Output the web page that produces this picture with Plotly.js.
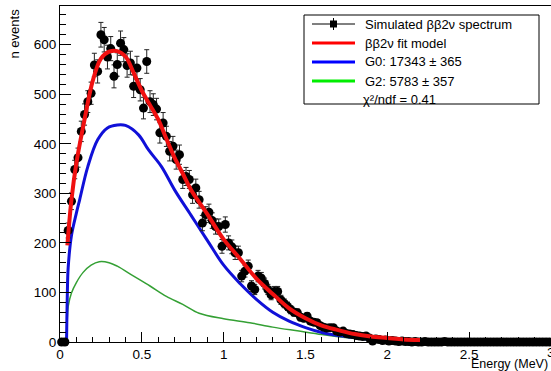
<!DOCTYPE html>
<html><head><meta charset="utf-8">
<script src="https://cdn.plot.ly/plotly-3.0.1.min.js"></script>
<style>html,body{margin:0;padding:0;background:#fff}#chart{width:551px;height:371px}</style>
</head><body><div id="chart"></div>
<script>
// Simulated spectrum: bin centres (MeV) and counts
var dataX = [0.01,0.03,0.05,0.07,0.09,0.11,0.13,0.15,0.17,0.19,0.21,0.23,0.25,0.27,0.29,0.31,0.33,0.35,0.37,0.39,
0.41,0.43,0.45,0.47,0.49,0.51,0.53,0.55,0.57,0.59,0.61,0.63,0.65,0.67,0.69,0.71,0.73,0.75,0.77,0.79,
0.81,0.83,0.85,0.87,0.89,0.91,0.93,0.95,0.97,0.99,1.01,1.03,1.05,1.07,1.09,1.11,1.13,1.15,1.17,1.19,
1.21,1.23,1.25,1.27,1.29,1.31,1.33,1.35,1.37,1.39,1.41,1.43,1.45,1.47,1.49,1.51,1.53,1.55,1.57,1.59,
1.61,1.63,1.65,1.67,1.69,1.71,1.73,1.75,1.77,1.79,1.81,1.83,1.85,1.87,1.89,1.91,1.93,1.95,1.97,1.99,
2.01,2.03,2.05,2.07,2.09,2.11,2.13,2.15,2.17,2.19,2.21,2.23,2.25,2.27,2.29,2.31,2.33,2.35,2.37,2.39,
2.41,2.43,2.45,2.47,2.49,2.51,2.53,2.55,2.57,2.59,2.61,2.63,2.65,2.67,2.69,2.71,2.73,2.75,2.77,2.79,
2.81,2.83,2.85,2.87,2.89,2.91,2.93,2.95,2.97,2.99];
var dataY = [0,0,225,284,348,372,425,459,485,502,559,546,620,610,575,592,536,560,603,590,
558,563,516,553,509,472,566,485,479,470,422,442,415,385,395,368,378,328,334,328,
297,311,287,240,257,262,245,233,233,193,237,200,192,180,180,133,143,153,113,106,
133,129,118,106,95,102,102,85,78,72,65,60,59,50,48,52,42,40,39,33,
30,28,29,29,22,20,22,17,16,15,13,12,11,12,8,2,6,5,3,4,
2,3,2,1,2,1,1,0,1,0,0,1,0,0,0,0,0,1,0,0,
0,0,0,0,0,0,0,0,0,0,0,0,0,0,0,0,0,0,0,0,
0,0,0,0,0,0,0,0,0,0];

// Fit model (sum)
var fitX = [0.045,0.07,0.10,0.15,0.20,0.25,0.30,0.35,0.40,0.45,0.50,0.55,0.60,0.65,0.70,0.75,0.80,0.90,1.00,1.10,1.20,1.30,1.40,1.50,1.60,1.70,1.80,1.90,2.00,2.10,2.20];
var fitY = [195,287,361,449,527,572,586,587,576,543,507,478,449,410,372,340,307,258,207,168,128,97,68,48,33,24,16,11,8,5,4];

// G0 component
var g0X = [0.04,0.045,0.05,0.07,0.10,0.12,0.17,0.23,0.29,0.35,0.40,0.48,0.54,0.62,0.70,0.80,0.90,1.00,1.10,1.20,1.30,1.40,1.50,1.60,1.70,1.80,1.90,2.00];
var g0Y = [0,100,150,215,260,287,354,408,432,438,437,418,388,354,307,256,205,155,118,86,60,42,29,19,13,9,5,3];

// G2 component
var g2X = [0.04,0.045,0.05,0.07,0.10,0.14,0.19,0.24,0.30,0.35,0.45,0.55,0.65,0.75,0.85,1.00,1.16,1.30,1.46,1.60,1.77,1.90,2.00];
var g2Y = [0,50,72,99,120,140,155,162,160,153,133,113,92,76,58,47,39,30,22,15,8,4,2];

var legendLabels = ['Simulated \u03b2\u03b22\u03bd spectrum','\u03b2\u03b22\u03bd fit model','G0: 17343 \u00b1 365','G2: 5783 \u00b1 357','\u03c7\u00b2/ndf = 0.41'];
var legendColors = ['#000000','#ff0000','#0000ff','#00ee00'];

var traces = [
  {x:g2X, y:g2Y, type:'scatter', mode:'lines', line:{color:'#34a034', width:1.5, shape:'spline'}, showlegend:false},
  {x:g0X, y:g0Y, type:'scatter', mode:'lines', line:{color:'#1010d8', width:3, shape:'spline'}, showlegend:false},
  {x:dataX, y:dataY, type:'scatter', mode:'markers', marker:{color:'#000', size:9, symbol:'circle'},
   error_y:{type:'sqrt', visible:true, color:'#222', thickness:1, width:2.5}, showlegend:false, cliponaxis:false},
  {x:fitX, y:fitY, type:'scatter', mode:'lines', line:{color:'#f01010', width:4, shape:'spline'}, showlegend:false}
];

// legend drawn in pixel positions converted to paper coordinates
var L = 60, T = 6, W = 491, H = 336;
function px(v){ return (v - L) / W; }
function py(v){ return (T + H - v) / H; }
var shapes = [
  {type:'rect', xref:'paper', yref:'paper', x0:px(304), x1:px(539), y0:py(15), y1:py(104), line:{color:'#000', width:1}, fillcolor:'#fff', layer:'above'}
];
var annotations = [
  {text:'Energy (MeV)', xref:'paper', yref:'paper', x:1, y:0, xanchor:'right', yanchor:'top', xshift:-1, yshift:-13, showarrow:false, font:{size:12.5}},
  {text:'3', xref:'paper', yref:'paper', x:1, y:0, xanchor:'center', yanchor:'top', yshift:-1, showarrow:false, font:{size:13.5}},
  {text:'n events', xref:'paper', yref:'paper', x:0, y:1, xanchor:'right', yanchor:'top', xshift:-37, yshift:-1, textangle:-90, showarrow:false, font:{size:13}}
];
var rowY = [24, 43, 62, 81, 99];
for (var i = 0; i < 4; i++) {
  shapes.push({type:'line', xref:'paper', yref:'paper', x0:px(312), x1:px(355), y0:py(rowY[i]), y1:py(rowY[i]),
               line:{color:legendColors[i], width:(i===0?1:3)}, layer:'above'});
}
shapes.push({type:'rect', xref:'paper', yref:'paper', x0:px(330), x1:px(337), y0:py(20.5), y1:py(27.5), line:{color:'#000', width:0}, fillcolor:'#000', layer:'above'});
shapes.push({type:'line', xref:'paper', yref:'paper', x0:px(333.5), x1:px(333.5), y0:py(18), y1:py(30), line:{color:'#000', width:1}, layer:'above'});
for (var j = 0; j < 5; j++) {
  annotations.push({text:legendLabels[j], xref:'paper', yref:'paper', x:px(j===4?361:363), y:py(rowY[j]), xanchor:'left', yanchor:'middle',
                    showarrow:false, font:{size:13, color:'#000'}});
}

var layout = {
  width:551, height:371,
  margin:{l:L, r:0, t:T, b:29},
  paper_bgcolor:'#fff', plot_bgcolor:'#fff',
  font:{family:'Liberation Sans, Arial, sans-serif', size:13, color:'#000'},
  showlegend:false,
  xaxis:{range:[0,3], dtick:0.5, tick0:0, ticks:'inside', ticklen:10, tickcolor:'#000', showline:true, linecolor:'#000', linewidth:1,
         mirror:true, showgrid:false, zeroline:false, tickfont:{size:13.5},
         minor:{dtick:0.1, ticks:'inside', ticklen:5, tickcolor:'#000', showgrid:false}},
  yaxis:{range:[0,678], dtick:100, tick0:0, ticks:'inside', ticklen:11, tickcolor:'#000', showline:true, linecolor:'#000', linewidth:1,
         mirror:true, showgrid:false, zeroline:false, tickfont:{size:13.5},
         minor:{dtick:20, ticks:'inside', ticklen:6, tickcolor:'#000', showgrid:false}},
  shapes:shapes,
  annotations:annotations
};
Plotly.newPlot('chart', traces, layout, {displayModeBar:false, staticPlot:true});
</script></body></html>
